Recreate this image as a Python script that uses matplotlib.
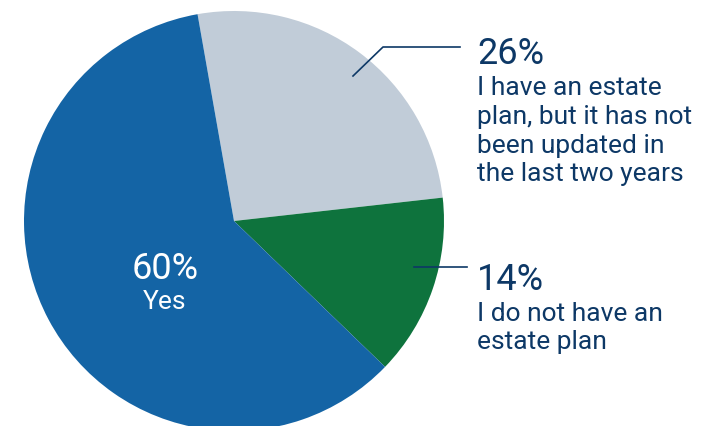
import matplotlib.pyplot as plt

# survey shares
labels = ['I have an estate\nplan, but it has not\nbeen updated in\nthe last two years',
          'I do not have an\nestate plan',
          'Yes']
shares = [26, 14, 60]
colors = ['#c1ccd8', '#0e733d', '#1464a5']
navy = '#0d3866'

plt.rcParams['font.family'] = ['Roboto', 'DejaVu Sans']

fig = plt.figure(figsize=(7.02, 4.27), dpi=100)
# pie centre at (234, 222) px, radius 210 px
W, H = 702, 427
cx, cy, r = 234, 222, 210
ax = fig.add_axes([(cx - r) / W, (H - cy - r) / H, 2 * r / W, 2 * r / H])
ax.pie(shares, colors=colors, startangle=100, counterclock=False, radius=1,
       wedgeprops=dict(linewidth=0))
ax.set_xlim(-1, 1)
ax.set_ylim(-1, 1)
ax.set_aspect('equal')
ax.axis('off')


def px(x, y):
    return (x - cx) / r, (cy - y) / r


def block(x, y0, pct, text, color, ha='left', step=28.8):
    # big percentage, then the description one line per baseline
    tx, ty = px(x, y0)
    ax.text(tx, ty, f'{pct}%', color=color, fontsize=26, ha=ha, va='baseline', clip_on=False)
    for i, line in enumerate(text.split('\n')):
        tx, ty = px(x, y0 + 30.5 + i * step)
        ax.text(tx, ty, line, color=color, fontsize=19, ha=ha, va='baseline', clip_on=False)


# leader lines
x0, y0 = px(353, 77)
x1, y1 = px(383, 48)
x2, y2 = px(460, 48)
ax.plot([x0, x1, x2], [y0, y1, y2], color=navy, lw=1.2, clip_on=False)
x0, y0 = px(414, 268)
x1, y1 = px(467, 268)
ax.plot([x0, x1], [y0, y1], color=navy, lw=1.2, clip_on=False)

block(477, 64.5, shares[0], labels[0], navy)
block(477, 290.5, shares[1], labels[1], navy, step=28)
block(165, 279, shares[2], labels[2], 'white', ha='center')

fig.savefig('out.png', dpi=100)
